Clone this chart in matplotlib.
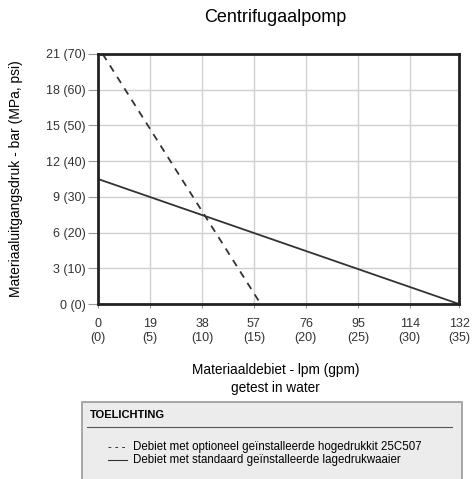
import matplotlib.pyplot as plt
import matplotlib as mpl
from matplotlib.patches import Rectangle

mpl.rcParams["font.family"] = ["Liberation Sans Narrow", "Liberation Sans", "DejaVu Sans"]

# assen
x_ticks = [0, 19, 38, 57, 76, 95, 114, 132]
x_labels = ["0\n(0)", "19\n(5)", "38\n(10)", "57\n(15)", "76\n(20)", "95\n(25)", "114\n(30)", "132\n(35)"]
y_ticks = [0, 3, 6, 9, 12, 15, 18, 21]
y_labels = ["0 (0)", "3 (10)", "6 (20)", "9 (30)", "12 (40)", "15 (50)", "18 (60)", "21 (70)"]

# curves
hoog_x = [1.7, 59.5]
hoog_y = [21, 0]
laag_x = [0, 132]
laag_y = [10.5, 0]

fig = plt.figure(figsize=(4.74, 4.79), dpi=100)
ax = fig.add_axes([0.2068, 0.3653, 0.7616, 0.522])

ax.plot(hoog_x, hoog_y, color="#333333", lw=1.3, linestyle=(0, (4, 3.5)))
ax.plot(laag_x, laag_y, color="#333333", lw=1.3)

ax.set_xlim(0, 132)
ax.set_ylim(0, 21)
ax.set_xticks(x_ticks)
ax.set_xticklabels(x_labels, fontsize=9, color="#333333")
ax.set_yticks(y_ticks)
ax.set_yticklabels(y_labels, fontsize=9, color="#333333")
ax.tick_params(axis="x", length=3, color="#999999", pad=7)
ax.tick_params(axis="y", length=7, color="#999999", pad=2)
ax.grid(True, color="#d0d0d0", lw=1)
for s in ax.spines.values():
    s.set_linewidth(2)
    s.set_color("#222222")

fig.text(0.58, 0.963, "Centrifugaalpomp", ha="center", va="center", fontsize=13)
fig.text(0.033, 0.628, "Materiaaluitgangsdruk - bar (MPa, psi)", rotation=90,
         ha="center", va="center", fontsize=10)
fig.text(0.582, 0.228, "Materiaaldebiet - lpm (gpm)", ha="center", va="center", fontsize=9.8)
fig.text(0.582, 0.19, "getest in water", ha="center", va="center", fontsize=9.8)

# toelichting kader
fig.patches.append(Rectangle((0.173, -0.01), 0.802, 0.171, transform=fig.transFigure,
                             facecolor="#ececec", edgecolor="#999999", lw=1.2))
fig.text(0.19, 0.133, "TOELICHTING", fontsize=8, fontweight="bold", va="center")
fig.add_artist(plt.Line2D([0.183, 0.954], [0.1086, 0.1086], transform=fig.transFigure,
                          color="#555555", lw=0.8))
fig.text(0.228, 0.067, "- - -", fontsize=8, va="center")
fig.text(0.28, 0.067, "Debiet met optioneel geïnstalleerde hogedrukkit 25C507", fontsize=8.3, va="center")
fig.add_artist(plt.Line2D([0.228, 0.268], [0.04, 0.04], transform=fig.transFigure,
                          color="#333333", lw=0.8))
fig.text(0.28, 0.04, "Debiet met standaard geïnstalleerde lagedrukwaaier", fontsize=8.3, va="center")

fig.savefig("out.png", dpi=100)
